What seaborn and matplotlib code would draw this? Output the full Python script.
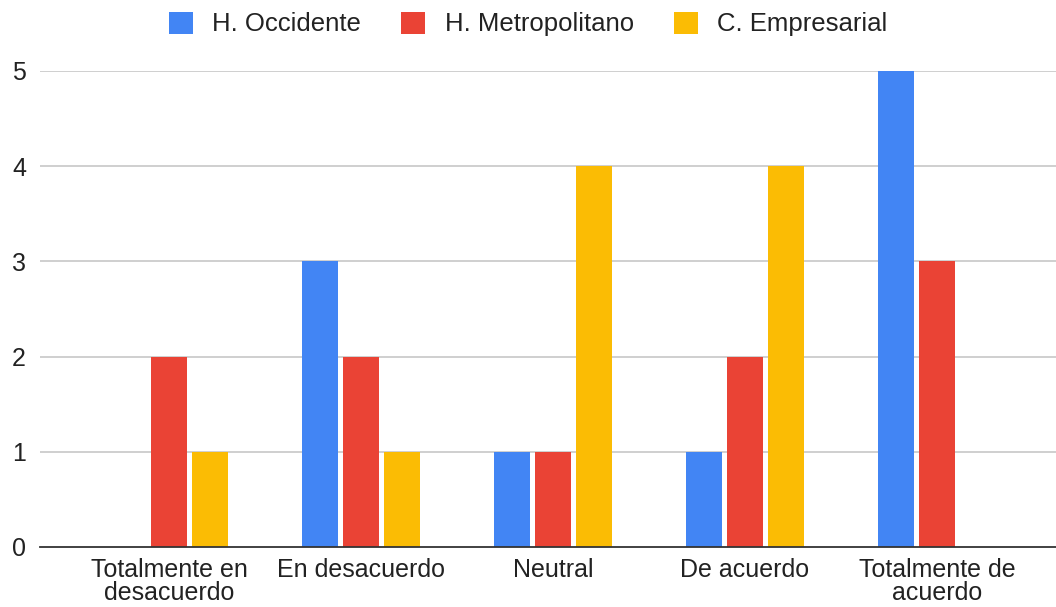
import matplotlib
matplotlib.use("Agg")
import matplotlib.pyplot as plt
from matplotlib.patches import Patch
import seaborn as sns
import pandas as pd

categories = ["Totalmente en\ndesacuerdo", "En desacuerdo", "Neutral", "De acuerdo", "Totalmente de\nacuerdo"]
series_names = ["H. Occidente", "H. Metropolitano", "C. Empresarial"]
occidente = [0, 3, 1, 1, 5]
metropolitano = [2, 2, 1, 2, 3]
empresarial = [1, 1, 4, 4, 0]
colors = ["#4285F4", "#EA4335", "#FBBC04"]
y_ticks = [0, 1, 2, 3, 4, 5]

rows = []
for name, vals in zip(series_names, [occidente, metropolitano, empresarial]):
    for cat, v in zip(categories, vals):
        rows.append({"categoria": cat, "serie": name, "valor": v})
df = pd.DataFrame(rows)

sns.set_theme(style="white")
plt.rcParams["font.family"] = ["Liberation Sans", "DejaVu Sans"]

FS = 18

fig = plt.figure(figsize=(10.56, 6.07), dpi=100)
ax = fig.add_axes([40 / 1056, 60 / 607, 1 - 40 / 1056, (547 - 71) / 607])

sns.barplot(data=df, x="categoria", y="valor", hue="serie", order=categories,
            hue_order=series_names, palette=colors, width=0.64, gap=0.1,
            saturation=1, ax=ax, legend=False, edgecolor="none")

ax.set_ylim(0, 5)
ax.set_xlim((40 - 169) / 192, (1056 - 169) / 192)
ax.set_yticks(y_ticks)
ax.set_yticklabels([str(t) for t in y_ticks], fontsize=FS, color="#222222")
ax.tick_params(axis="y", length=0, pad=10)
ax.tick_params(axis="x", length=0, pad=8, labelsize=FS, labelcolor="#222222")
for lbl in ax.get_xticklabels():
    lbl.set_linespacing(0.95)
ax.set_xlabel("")
ax.set_ylabel("")
for t in y_ticks[1:]:
    ax.axhline(t, color="#cccccc", linewidth=1.3, zorder=0)
for s in ["top", "right", "left"]:
    ax.spines[s].set_visible(False)
ax.spines["bottom"].set_color("#333333")
ax.spines["bottom"].set_linewidth(1.3)
ax.spines["bottom"].set_zorder(5)

handles = [Patch(facecolor=c, edgecolor="none") for c in colors]
fig.legend(handles, series_names, loc="center", bbox_to_anchor=(0.5, 1 - 24 / 607),
           ncol=3, frameon=False, fontsize=18.5, handlelength=0.95, handleheight=0.95,
           handletextpad=0.75, columnspacing=1.55, labelcolor="#222222",
           borderpad=0)

fig.savefig("out.png", dpi=100, facecolor="white")
